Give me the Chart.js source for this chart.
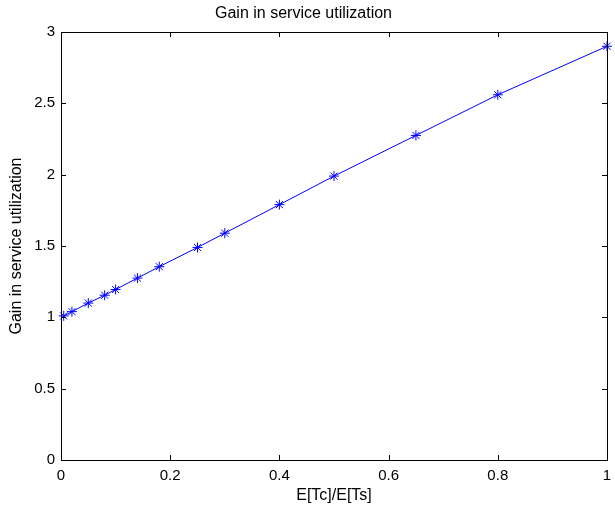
<!DOCTYPE html>
<html>
<head>
<meta charset="utf-8">
<script src="https://cdn.jsdelivr.net/npm/chart.js@4"></script>
<style>
  html, body { margin: 0; padding: 0; background: #fff; }
  #wrap { width: 615px; height: 507px; }
</style>
</head>
<body>
<div id="wrap"><canvas id="c" width="615" height="507"></canvas></div>
<script>
// Ratio of mean times E[Tc]/E[Ts] and the resulting gain
const ratioValues = [0.005, 0.02, 0.05, 0.08, 0.1, 0.14, 0.18, 0.25, 0.3, 0.4, 0.5, 0.65, 0.8, 1.0];
const gainValues  = [1.01, 1.04, 1.10, 1.155, 1.195, 1.275, 1.355, 1.49, 1.59, 1.79, 1.99, 2.275, 2.56, 2.90];

const titleText = 'Gain in service utilization';
const xAxisTitle = 'E[Tc]/E[Ts]';
const yAxisTitle = 'Gain in service utilization';
const xRange = [0, 1];
const yRange = [0, 3];
const xStep = 0.2;
const yStep = 0.5;

const FONT = 'Helvetica, Arial, "Liberation Sans", sans-serif';
const fmt = v => String(+Number(v).toFixed(2));

// Frame around the plotting area with inward-pointing tick marks on every side
const boxTicks = {
  id: 'boxTicks',
  afterDatasetsDraw(chart) {
    const { ctx, chartArea: a, scales } = chart;
    const len = 5;
    ctx.save();
    ctx.strokeStyle = '#000';
    ctx.lineWidth = 1;
    ctx.beginPath();
    scales.x.ticks.forEach(t => {
      const px = Math.round(scales.x.getPixelForValue(t.value)) + 0.5;
      ctx.moveTo(px, a.bottom); ctx.lineTo(px, a.bottom - len);
      ctx.moveTo(px, a.top); ctx.lineTo(px, a.top + len);
    });
    scales.y.ticks.forEach(t => {
      const py = Math.round(scales.y.getPixelForValue(t.value)) + 0.5;
      ctx.moveTo(a.left, py); ctx.lineTo(a.left + len, py);
      ctx.moveTo(a.right, py); ctx.lineTo(a.right - len, py);
    });
    ctx.stroke();
    ctx.strokeRect(Math.round(a.left) + 0.5, Math.round(a.top) + 0.5,
                   Math.round(a.right - a.left), Math.round(a.bottom - a.top));
    ctx.restore();
  }
};

new Chart(document.getElementById('c'), {
  type: 'line',
  data: {
    datasets: [{
      data: ratioValues.map((x, i) => ({ x, y: gainValues[i] })),
      borderColor: '#0000ff',
      backgroundColor: '#0000ff',
      borderWidth: 1,
      pointStyle: 'star',
      pointRadius: 5,
      pointBorderWidth: 1,
      pointBorderColor: '#0000ff',
      tension: 0,
      fill: false,
      clip: false
    }]
  },
  options: {
    responsive: false,
    animation: false,
    devicePixelRatio: 1,
    layout: { padding: { left: 0, right: 8, top: 0, bottom: 0 } },
    plugins: {
      legend: { display: false },
      tooltip: { enabled: false },
      title: {
        display: true,
        text: titleText,
        color: '#000',
        font: { family: FONT, size: 16, weight: 'normal' },
        padding: { top: 4, bottom: 8.8 }
      }
    },
    scales: {
      x: {
        type: 'linear',
        min: xRange[0], max: xRange[1],
        ticks: {
          stepSize: xStep,
          color: '#000',
          font: { family: FONT, size: 15 },
          padding: 7,
          maxRotation: 0,
          autoSkip: false,
          callback: fmt
        },
        grid: { display: false, drawTicks: false },
        border: { display: false },
        title: {
          display: true,
          text: xAxisTitle,
          color: '#000',
          font: { family: FONT, size: 16 },
          padding: { top: 0, bottom: 2 }
        },
        afterFit(scale) {
          scale.height = 47;
          scale.paddingLeft = 0;
          scale.paddingRight = 0;
        }
      },
      y: {
        type: 'linear',
        min: yRange[0], max: yRange[1],
        ticks: {
          stepSize: yStep,
          color: '#000',
          font: { family: FONT, size: 15 },
          padding: 6,
          callback: fmt
        },
        grid: { display: false, drawTicks: false },
        border: { display: false },
        title: {
          display: true,
          text: yAxisTitle,
          color: '#000',
          font: { family: FONT, size: 16 },
          padding: { top: 7, bottom: 0 }
        },
        afterFit(scale) {
          scale.width = 61;
          scale.paddingTop = 0;
          scale.paddingBottom = 0;
        }
      }
    }
  },
  plugins: [boxTicks]
});
</script>
</body>
</html>
